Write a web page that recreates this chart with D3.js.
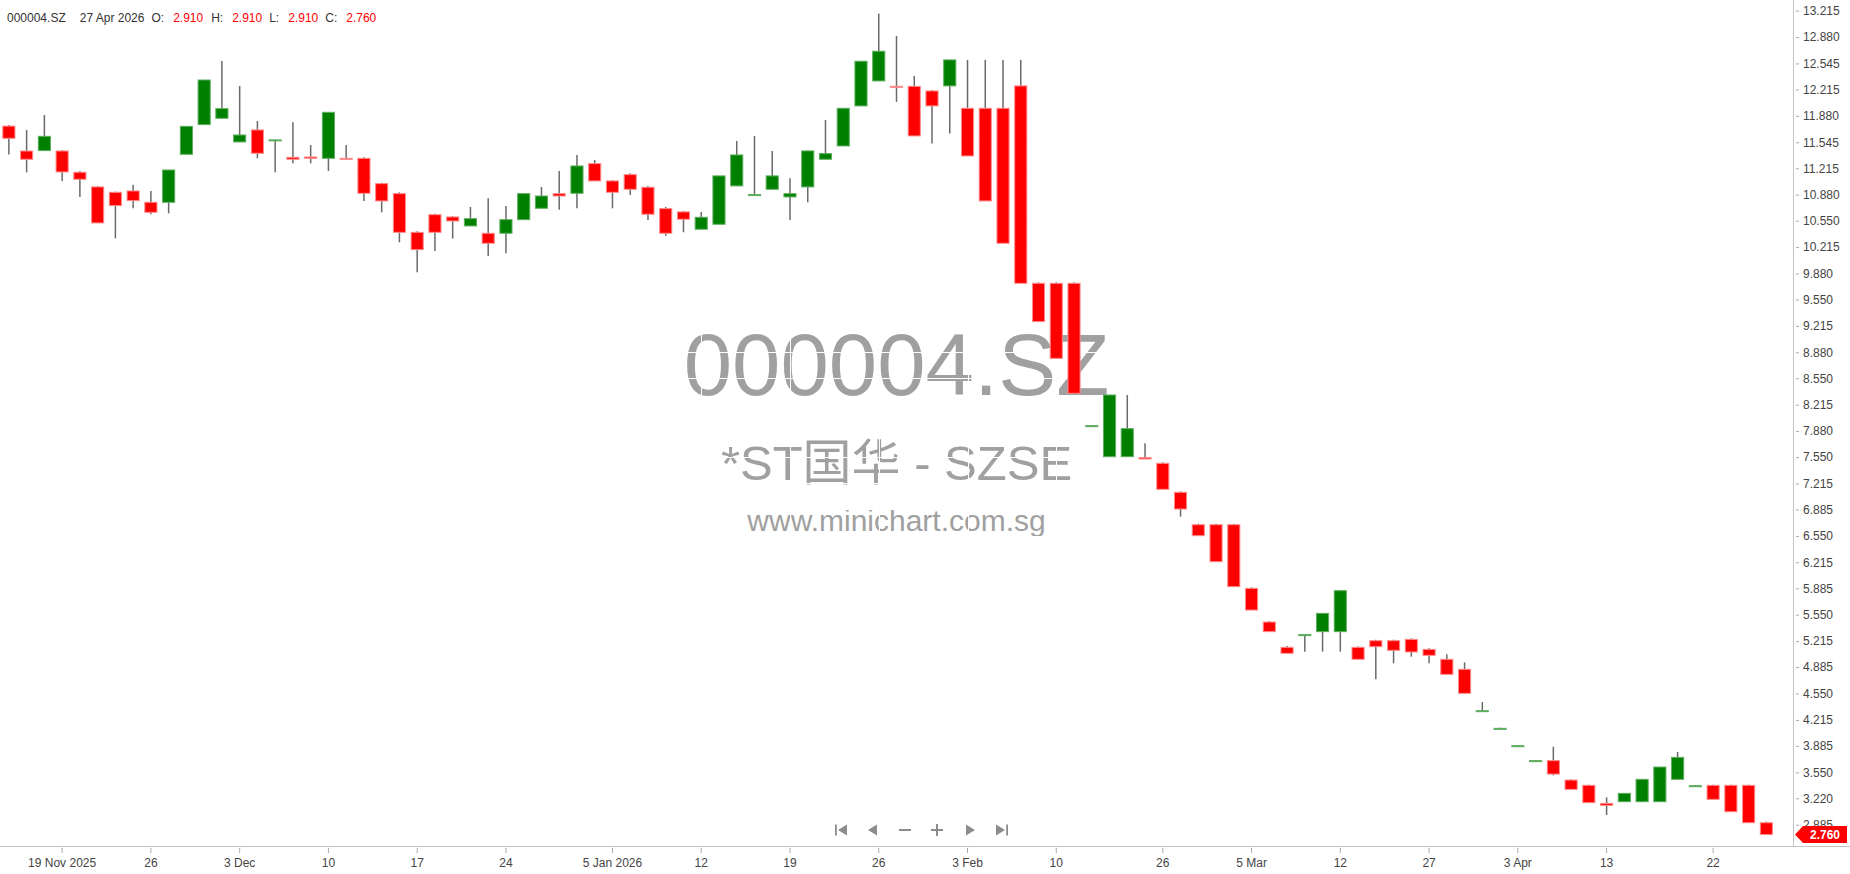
<!DOCTYPE html>
<html>
<head>
<meta charset="utf-8">
<script src="https://cdn.jsdelivr.net/npm/d3@7"></script>
<style>
html, body { margin: 0; padding: 0; background: #fff; }
svg { display: block; font-family: "Liberation Sans", Arial, "Noto Sans CJK SC", sans-serif; }
</style>
</head>
<body>
<div id="root"></div>
<script>
const WIDTH = 1850;
const HEIGHT = 874;
const PLOT_RIGHT = 1793;
const PLOT_BOTTOM = 846;
const UP = "#008000", DOWN = "#ff0000";

// daily candles, 14 Nov 2025 .. 27 Apr 2026 (trading-day index)
const opens = [11.75, 11.434, 11.439, 11.434, 11.164, 10.978, 10.91, 10.927, 10.783, 10.783,
  11.392, 11.769, 11.849, 11.549, 11.701, 11.57, 11.354, 11.358, 11.341, 11.341,
  11.341, 11.02, 10.893, 10.402, 10.626, 10.597, 10.483, 10.39, 10.39, 10.563,
  10.707, 10.893, 10.897, 11.274, 11.054, 11.134, 10.974, 10.703, 10.661, 10.441,
  10.504, 10.991, 10.872, 10.948, 10.851, 10.978, 11.329, 11.498, 12.006, 12.323,
  12.255, 12.255, 12.196, 12.26, 11.976, 11.976, 11.976, 12.26, 9.755, 9.755,
  9.755, 7.94, 7.555, 7.555, 7.543, 7.471, 7.103, 6.692, 6.692, 6.692,
  5.884, 5.457, 5.136, 5.288, 5.335, 5.335, 5.136, 5.22, 5.22, 5.237,
  5.11, 4.984, 4.857, 4.324, 4.099, 3.879, 3.689, 3.698, 3.452, 3.385,
  3.156, 3.177, 3.177, 3.177, 3.461, 3.372, 3.385, 3.385, 3.385, 2.91];
const highs = [11.765, 11.70, 11.891, 11.447, 11.181, 10.99, 10.918, 11.007, 10.927, 11.193,
  11.747, 12.335, 12.577, 12.259, 11.815, 11.582, 11.798, 11.51, 11.925, 11.51,
  11.354, 11.032, 10.91, 10.415, 10.639, 10.605, 10.724, 10.834, 10.736, 10.893,
  10.978, 11.181, 11.384, 11.32, 11.066, 11.151, 10.991, 10.724, 10.673, 10.661,
  11.118, 11.562, 11.625, 11.435, 11.088, 11.435, 11.828, 11.976, 12.573, 13.178,
  12.894, 12.387, 12.209, 12.59, 12.59, 12.59, 12.59, 12.59, 9.768, 9.768,
  9.768, 7.957, 8.338, 8.338, 7.725, 7.483, 7.115, 6.705, 6.705, 6.705,
  5.897, 5.47, 5.153, 5.305, 5.567, 5.855, 5.148, 5.233, 5.233, 5.25,
  5.123, 5.047, 4.945, 4.442, 4.116, 3.896, 3.706, 3.875, 3.461, 3.393,
  3.232, 3.283, 3.461, 3.617, 3.808, 3.389, 3.393, 3.393, 3.393, 2.925];
const lows = [11.39, 11.164, 11.439, 11.054, 10.851, 10.521, 10.326, 10.707, 10.631, 10.643,
  11.392, 11.769, 11.849, 11.549, 11.341, 11.164, 11.278, 11.278, 11.181, 11.329,
  10.80, 10.656, 10.275, 9.895, 10.165, 10.322, 10.483, 10.102, 10.136, 10.563,
  10.707, 10.69, 10.707, 11.054, 10.707, 10.876, 10.559, 10.356, 10.403, 10.441,
  10.504, 10.991, 10.872, 10.948, 10.559, 10.783, 11.329, 11.498, 12.006, 12.323,
  12.057, 11.625, 11.528, 11.655, 11.371, 10.80, 10.263, 9.755, 9.269, 8.803,
  8.359, 7.936, 7.555, 7.555, 7.526, 7.141, 6.794, 6.553, 6.223, 5.906,
  5.609, 5.335, 5.06, 5.081, 5.081, 5.081, 4.984, 4.73, 4.933, 5.017,
  4.933, 4.793, 4.552, 4.324, 4.099, 3.879, 3.689, 3.512, 3.334, 3.165,
  3.008, 3.177, 3.177, 3.177, 3.461, 3.372, 3.207, 3.05, 2.91, 2.76];
const closes = [11.595, 11.329, 11.62, 11.168, 11.075, 10.521, 10.741, 10.804, 10.656, 11.193,
  11.747, 12.335, 11.972, 11.637, 11.405, 11.575, 11.329, 11.341, 11.925, 11.329,
  10.897, 10.80, 10.402, 10.182, 10.402, 10.546, 10.576, 10.263, 10.563, 10.893,
  10.863, 10.863, 11.244, 11.054, 10.91, 10.948, 10.631, 10.39, 10.568, 10.593,
  11.118, 11.384, 10.881, 11.118, 10.893, 11.435, 11.401, 11.976, 12.573, 12.70,
  12.247, 11.625, 12.006, 12.59, 11.371, 10.80, 10.263, 9.755, 9.269, 8.803,
  8.359, 7.949, 8.338, 7.911, 7.526, 7.141, 6.891, 6.553, 6.223, 5.906,
  5.609, 5.335, 5.06, 5.297, 5.567, 5.855, 4.984, 5.144, 5.098, 5.077,
  5.034, 4.793, 4.552, 4.332, 4.108, 3.888, 3.698, 3.528, 3.334, 3.165,
  3.131, 3.283, 3.461, 3.617, 3.74, 3.38, 3.207, 3.05, 2.91, 2.76];

const xTickIdx = [3, 8, 13, 18, 23, 28, 34, 39, 44, 49, 54, 59, 65, 70, 75, 80, 85, 90, 96];
const xTickLabels = ["19 Nov 2025", "26", "3 Dec", "10", "17", "24", "5 Jan 2026", "12", "19", "26",
  "3 Feb", "10", "26", "5 Mar", "12", "27", "3 Apr", "13", "22"];
const yTickLabels = ["13.215", "12.880", "12.545", "12.215", "11.880", "11.545", "11.215", "10.880",
  "10.550", "10.215", "9.880", "9.550", "9.215", "8.880", "8.550", "8.215", "7.880", "7.550",
  "7.215", "6.885", "6.550", "6.215", "5.885", "5.550", "5.215", "4.885", "4.550", "4.215",
  "3.885", "3.550", "3.220", "2.885"];

const headerItems = [["000004.SZ", "#333"], ["27 Apr 2026", "#333"], ["O:", "#333"], ["2.910", DOWN],
  ["H:", "#333"], ["2.910", DOWN], ["L:", "#333"], ["2.910", DOWN], ["C:", "#333"], ["2.760", DOWN]];
const headerGaps = [0, 14, 7, 9, 8, 9, 7, 9, 7, 9];

const candles = opens.map((o, i) => ({i, o, h: highs[i], l: lows[i], c: closes[i]}));
const lastClose = closes[closes.length - 1];

const xScale = d3.scaleBand()
    .domain(d3.range(candles.length + 1))
    .range([0, PLOT_RIGHT])
    .paddingInner(0.26)
    .paddingOuter(0.13);

const yScale = d3.scaleLinear()
    .domain([2.615, 13.35])
    .range([PLOT_BOTTOM, 0]);

const cx = i => xScale(i) + xScale.bandwidth() / 2;

const svg = d3.select("#root")
    .append("svg")
    .attr("width", WIDTH)
    .attr("height", HEIGHT);

// watermark
const wm = svg.append("g")
    .attr("fill", "#a0a0a0")
    .attr("text-anchor", "middle");
wm.append("text").attr("x", PLOT_RIGHT / 2).attr("y", 395).attr("font-size", 87).text("000004.SZ");
wm.append("text").attr("x", PLOT_RIGHT / 2).attr("y", 480).attr("font-size", 49).text("*ST国华 - SZSE");
wm.append("text").attr("x", PLOT_RIGHT / 2).attr("y", 531).attr("font-size", 30).text("www.minichart.com.sg");

// grid in near-white, only shows where it crosses the watermark
const grid = svg.append("g").attr("stroke", "#fdfdfd").attr("stroke-width", 1);
grid.selectAll(".gy").data(yTickLabels).join("line")
    .attr("x1", 0).attr("x2", PLOT_RIGHT)
    .attr("y1", d => Math.round(yScale(+d)) + 0.5)
    .attr("y2", d => Math.round(yScale(+d)) + 0.5);
grid.selectAll(".gx").data(xTickIdx).join("line")
    .attr("y1", 0).attr("y2", PLOT_BOTTOM)
    .attr("x1", d => Math.round(cx(d)) + 0.5)
    .attr("x2", d => Math.round(cx(d)) + 0.5);

// candles
const candleLayer = svg.append("g");

candleLayer.selectAll(".wick")
    .data(candles)
    .join("line")
    .attr("class", "wick")
    .attr("x1", d => cx(d.i))
    .attr("x2", d => cx(d.i))
    .attr("y1", d => yScale(d.h))
    .attr("y2", d => yScale(d.l))
    .attr("stroke", "#6a6a6a")
    .attr("stroke-width", 1.5);

candleLayer.selectAll(".body")
    .data(candles)
    .join("rect")
    .attr("class", "body")
    .attr("x", d => xScale(d.i) + 0.5)
    .attr("width", xScale.bandwidth() - 1)
    .attr("y", d => yScale(Math.max(d.o, d.c)))
    .attr("height", d => Math.max(1, Math.abs(yScale(d.o) - yScale(d.c))))
    .attr("fill", d => d.c >= d.o ? UP : DOWN)
    .attr("stroke", d => d.c >= d.o ? "#5fae5f" : "#ff8c8c")
    .attr("stroke-width", 1);

// axes
const axisLayer = svg.append("g")
    .attr("class", "axisLayer");

const yAxis = d3.axisRight(yScale)
    .tickValues(yTickLabels.map(Number))
    .tickFormat((d, i) => yTickLabels[i])
    .tickSize(6)
    .tickPadding(4);

const yG = axisLayer.append("g")
    .attr("transform", `translate(${PLOT_RIGHT}, 0)`)
    .call(yAxis);
yG.select(".domain").remove();
yG.selectAll(".tick line").attr("x1", 3).attr("stroke", "#aaa");
yG.selectAll(".tick text").attr("fill", "#444").attr("font-size", 12)
    .attr("font-family", "'Liberation Sans', Arial, sans-serif");

const xAxis = d3.axisBottom(xScale)
    .tickValues(xTickIdx)
    .tickFormat(i => xTickLabels[xTickIdx.indexOf(i)])
    .tickSize(7)
    .tickPadding(5.5);

const xG = axisLayer.append("g")
    .attr("transform", `translate(0, ${PLOT_BOTTOM})`)
    .call(xAxis);
xG.select(".domain").remove();
xG.selectAll(".tick line").attr("y1", 2).attr("stroke", "#aaa");
xG.selectAll(".tick text").attr("fill", "#444").attr("font-size", 12)
    .attr("font-family", "'Liberation Sans', Arial, sans-serif");

axisLayer.append("line")
    .attr("x1", 0).attr("x2", WIDTH)
    .attr("y1", PLOT_BOTTOM + 0.5).attr("y2", PLOT_BOTTOM + 0.5)
    .attr("stroke", "#c4c4c4");
axisLayer.append("line")
    .attr("x1", PLOT_RIGHT + 0.5).attr("x2", PLOT_RIGHT + 0.5)
    .attr("y1", 0).attr("y2", PLOT_BOTTOM)
    .attr("stroke", "#c4c4c4");

// last price tag
const tagY = yScale(lastClose);
const tag = svg.append("g").attr("transform", `translate(${PLOT_RIGHT + 2}, ${tagY})`);
tag.append("path")
    .attr("d", "M0,0 L8,-8.5 L52,-8.5 L52,8.5 L8,8.5 Z")
    .attr("fill", DOWN);
tag.append("text")
    .attr("x", 30).attr("y", 4.5)
    .attr("text-anchor", "middle")
    .attr("fill", "#fff")
    .attr("font-size", 12)
    .attr("font-weight", "bold")
    .text(d3.format(".3f")(lastClose));

// header
const header = svg.append("g").attr("font-size", 12);
let hx = 7;
headerItems.forEach(([txt, col], k) => {
    hx += headerGaps[k];
    const t = header.append("text").attr("x", hx).attr("y", 22).attr("fill", col).text(txt);
    hx += t.node().getComputedTextLength();
});

// navigation buttons
const nav = svg.append("g").attr("fill", "#8c8c8c");
const navShapes = [
    "M-6,-5.5 L-4.2,-5.5 L-4.2,5.5 L-6,5.5 Z M6,-5.5 L6,5.5 L-3,0 Z",
    "M4,-5.5 L4,5.5 L-5,0 Z",
    "M-6,-1 L6,-1 L6,1 L-6,1 Z",
    "M-6,-1 L6,-1 L6,1 L-6,1 Z M-1,-6 L1,-6 L1,6 L-1,6 Z",
    "M-4,-5.5 L-4,5.5 L5,0 Z",
    "M-6,-5.5 L-6,5.5 L3,0 Z M4.2,-5.5 L6,-5.5 L6,5.5 L4.2,5.5 Z"
];
const navX = [841, 873, 905, 937, 970, 1002];
nav.selectAll("path").data(navShapes).join("path")
    .attr("transform", (d, k) => `translate(${navX[k]}, 830)`)
    .attr("d", d => d);
</script>
</body>
</html>
